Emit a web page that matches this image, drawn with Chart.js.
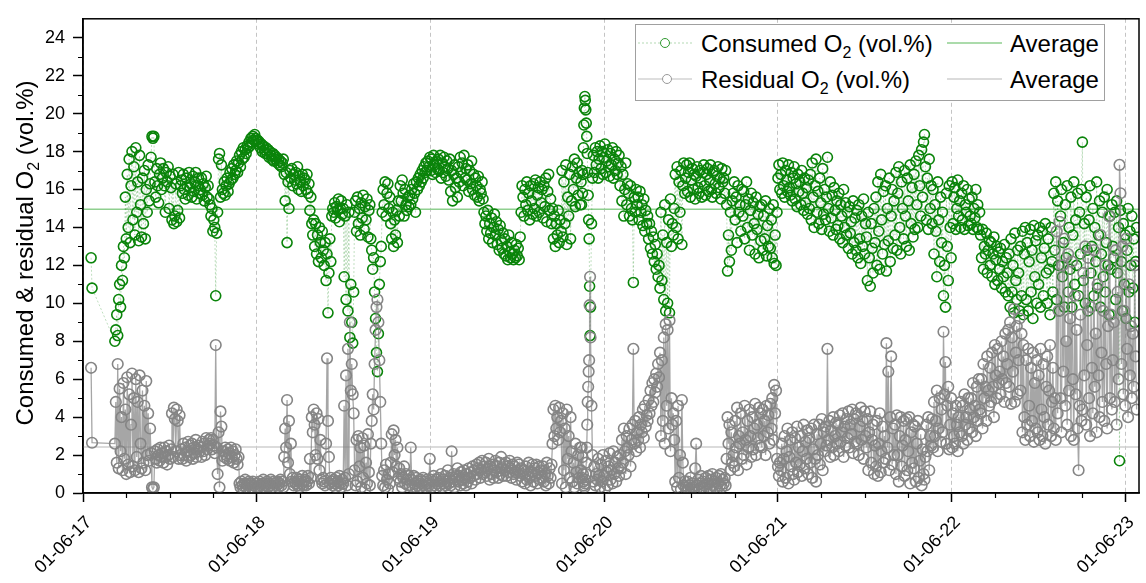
<!DOCTYPE html>
<html>
<head>
<meta charset="utf-8">
<title>Consumed and residual O2</title>
<script src="https://cdn.jsdelivr.net/npm/chart.js@4.4.1/dist/chart.umd.min.js"></script>
<style>
  body { margin: 0; background: #fff; }
  #wrap { position: relative; width: 1146px; height: 583px; }
  #overlay { position: absolute; left: 0; top: 0; pointer-events: none; }
  #overlay text { font-family: 'Liberation Sans', Arial, sans-serif; font-size: 24px; fill: #000; }
</style>
</head>
<body>
<div id="wrap">
  <canvas id="o2Chart" width="1146" height="583"></canvas>
  <svg id="overlay" width="1146" height="583">
    <text transform="translate(33,253) rotate(-90)" text-anchor="middle">Consumed &amp; residual O<tspan font-size="16" dy="6">2</tspan><tspan dy="-6"> (vol.%)</tspan></text>
    <rect x="635.5" y="24.5" width="469" height="76" fill="#fff" stroke="#a0a0a0"/>
    <line x1="638" y1="43" x2="692" y2="43" stroke="rgba(0,128,0,0.3)" stroke-dasharray="2,2"/>
    <circle cx="665" cy="43" r="4.5" fill="#fff" stroke="#2f9a2f"/>
    <text x="701" y="52">Consumed O<tspan font-size="16" dy="6">2</tspan><tspan dy="-6"> (vol.%)</tspan></text>
    <line x1="947" y1="43" x2="1002" y2="43" stroke="#8fcf8f" stroke-width="1.5"/>
    <text x="1010" y="52">Average</text>
    <line x1="638" y1="79" x2="692" y2="79" stroke="#bdbdbd" stroke-width="1.2"/>
    <circle cx="667" cy="79" r="4.5" fill="#fff" stroke="#9a9a9a"/>
    <text x="701" y="88">Residual O<tspan font-size="16" dy="6">2</tspan><tspan dy="-6"> (vol.%)</tspan></text>
    <line x1="947" y1="79" x2="1002" y2="79" stroke="#cfcfcf" stroke-width="1.5"/>
    <text x="1010" y="88">Average</text>
  </svg>
</div>
<script>
// days since 01-06-17
const days = [
  17, 19,
  67, 69, 71, 73, 75, 77, 79, 81, 83, 85,
  87, 89, 91, 93, 95, 97, 99, 101, 103, 105,
  107, 109, 111, 113, 115, 117, 119, 121, 123, 125,
  127, 129, 131, 133, 135, 137, 139, 141, 143, 145,
  147, 149, 151, 153, 155, 157, 159, 161, 163, 165,
  167, 169, 171, 173, 175, 177, 179, 181, 183, 185,
  187, 189, 191, 193, 195, 197, 199, 201, 203, 205,
  207, 209, 211, 213, 215, 217, 219, 221, 223, 225,
  227, 229, 231, 233, 235, 237, 239, 241, 243, 245,
  247, 249, 251, 253, 255, 257, 259, 261, 263, 265,
  267, 269, 271, 273, 275, 277, 279, 281, 283, 285,
  287, 289, 291, 293, 295, 297, 299, 301, 303, 305,
  307, 309, 311, 313, 315, 317, 319, 321, 323, 325,
  327, 329, 331, 333, 335, 337, 339, 341, 343, 345,
  347, 349, 351, 353, 355, 357, 359, 361, 363, 365,
  367, 369, 371, 373, 375, 377, 379, 381, 383, 385,
  387, 389, 391, 393, 395, 397, 399, 401, 403, 405,
  407, 409, 411, 413, 415, 417, 419, 421, 423, 425,
  427, 429, 431, 433, 435, 437, 439, 441, 443, 445,
  447, 449, 451, 453, 455, 457, 459, 461, 463, 465,
  467, 469, 471, 473, 475, 477, 479, 481, 483, 485,
  487, 489, 491, 493, 495, 497, 499, 501, 503, 505,
  507, 509, 511, 513, 515, 517, 519, 521, 523, 525,
  527, 529, 531, 533, 535, 537, 539, 541, 543, 545,
  547, 549, 551, 553, 555, 557, 559, 561, 563, 565,
  567, 569, 571, 573, 575, 577, 579, 581, 583, 585,
  587, 589, 591, 593, 595, 597, 599, 601, 603, 605,
  607, 609, 611, 613, 615, 617, 619, 621, 623, 625,
  627, 629, 631, 633, 635, 637, 639, 641, 643, 645,
  647, 649, 651, 653, 655, 657, 659, 661, 663, 665,
  667, 669, 671, 673, 675, 677, 679, 681, 683, 685,
  687, 689, 691, 693, 695, 697, 699, 701, 703, 705,
  707, 709, 711, 713, 715, 717, 719, 721, 723, 725,
  727, 729, 731, 733, 735, 737, 739, 741, 743, 745,
  747, 749, 751, 753, 755, 757, 759, 761, 763, 765,
  767, 769, 771, 773, 775, 777, 779, 781, 783, 785,
  787, 789, 791, 793, 795, 797, 799, 801, 803, 805,
  807, 809, 811, 813, 815, 817, 819, 821, 823, 825,
  827, 829, 831, 833, 835, 837, 839, 841, 843, 845,
  847, 849, 851, 853, 855, 857, 859, 861, 863, 865,
  867, 869, 871, 873, 875, 877, 879, 881, 883, 885,
  887, 889, 891, 893, 895, 897, 899, 901, 903, 905,
  907, 909, 911, 913, 915, 917, 919, 921, 923, 925,
  927, 929, 931, 933, 935, 937, 939, 941, 943, 945,
  947, 949, 951, 953, 955, 957, 959, 961, 963, 965,
  967, 969, 971, 973, 975, 977, 979, 981, 983, 985,
  987, 989, 991, 993, 995, 997, 999, 1001, 1003, 1005,
  1007, 1009, 1011, 1013, 1015, 1017, 1019, 1021, 1023, 1025,
  1027, 1029, 1031, 1033, 1035, 1037, 1039, 1041, 1043, 1045,
  1047, 1048, 1049, 1050, 1051, 1052, 1053, 1054, 1055, 1056, 1057, 1058, 1059, 1060, 1061, 1062, 1063, 1064, 1065, 1066,
  1067, 1069, 1071, 1073, 1075, 1077, 1079, 1081, 1083, 1085,
  1087, 1089, 1091, 1093, 1095, 1097, 1099, 1101, 1103, 1105,
  1107, 1109, 1111, 1113, 1115, 1117, 1119, 1121, 1123, 1125,
  1127, 1129, 1131, 1133, 1135, 1137, 1139, 1141, 1143, 1145,
  1147, 1149, 1151, 1153, 1155, 1157, 1159, 1161, 1163, 1165,
  1167, 1169, 1171, 1173, 1175, 1177, 1179, 1181, 1183, 1185,
  1187, 1189, 1191, 1193, 1195, 1197, 1199, 1201, 1203, 1205,
  1207, 1209, 1211, 1213, 1215, 1217, 1219, 1221, 1223, 1225,
  1227, 1229, 1231, 1233, 1235, 1237, 1239, 1241, 1243, 1245,
  1247, 1249, 1251, 1253, 1255, 1257, 1259, 1261, 1263, 1265,
  1267, 1269, 1271, 1273, 1275, 1277, 1279, 1281, 1283, 1285,
  1287, 1289, 1291, 1293, 1295, 1297, 1299, 1301, 1303, 1305,
  1307, 1309, 1311, 1313, 1315, 1317, 1319, 1321, 1323, 1325,
  1327, 1329, 1331, 1333, 1335, 1337, 1339, 1341, 1343, 1345,
  1347, 1349, 1351, 1353, 1355, 1357, 1359, 1361, 1363, 1365,
  1367, 1369, 1371, 1373, 1375, 1377, 1379, 1381, 1383, 1385,
  1387, 1389, 1391, 1393, 1395, 1397, 1399, 1401, 1403, 1405,
  1407, 1409, 1411, 1413, 1415, 1417, 1419, 1421, 1423, 1425,
  1427, 1429, 1431, 1433, 1435, 1437, 1439, 1441, 1443, 1445,
  1447, 1449, 1451, 1453, 1455, 1457, 1459, 1461, 1463, 1465,
  1467, 1469, 1471, 1473, 1475, 1477, 1479, 1481, 1483, 1485,
  1487, 1489, 1491, 1493, 1495, 1497, 1499, 1501, 1503, 1505,
  1507, 1509, 1511, 1513, 1515, 1517, 1519, 1521, 1523, 1525,
  1527, 1529, 1531, 1533, 1535, 1537, 1539, 1541, 1543, 1545,
  1547, 1549, 1551, 1553, 1555, 1557, 1559, 1561, 1563, 1565,
  1567, 1569, 1571, 1573, 1575, 1577, 1579, 1581, 1583, 1585,
  1587, 1589, 1591, 1593, 1595, 1597, 1599, 1601, 1603, 1605,
  1607, 1609, 1611, 1613, 1615, 1617, 1619, 1621, 1623, 1625,
  1627, 1629, 1631, 1633, 1635, 1637, 1639, 1641, 1643, 1645,
  1647, 1649, 1651, 1653, 1655, 1657, 1659, 1661, 1663, 1665,
  1667, 1669, 1671, 1673, 1675, 1677, 1679, 1681, 1683, 1685,
  1687, 1689, 1691, 1693, 1695, 1697, 1699, 1701, 1703, 1705,
  1707, 1709, 1711, 1713, 1715, 1717, 1719, 1721, 1723, 1725,
  1727, 1729, 1731, 1733, 1735, 1737, 1739, 1741, 1743, 1745,
  1747, 1749, 1751, 1753, 1755, 1757, 1759, 1761, 1763, 1765,
  1767, 1769, 1771, 1773, 1775, 1777, 1779, 1781, 1783, 1785,
  1787, 1789, 1791, 1793, 1795, 1797, 1799, 1801, 1803, 1805,
  1807, 1809, 1811, 1813, 1815, 1817, 1819, 1821, 1823, 1825,
  1827, 1829, 1831, 1833, 1835, 1837, 1839, 1841, 1843, 1845,
  1847, 1849, 1851, 1853, 1855, 1857, 1859, 1861, 1863, 1865,
  1867, 1869, 1871, 1873, 1875, 1877, 1879, 1881, 1883, 1885,
  1887, 1889, 1891, 1893, 1895, 1897, 1899, 1901, 1903, 1905,
  1907, 1909, 1911, 1913, 1915, 1917, 1919, 1921, 1923, 1925,
  1927, 1929, 1931, 1933, 1935, 1937, 1939, 1941, 1943, 1945,
  1947, 1949, 1951, 1953, 1955, 1957, 1959, 1961, 1963, 1965,
  1967, 1969, 1971, 1973, 1975, 1977, 1979, 1981, 1983, 1985,
  1987, 1989, 1991, 1993, 1995, 1997, 1999, 2001, 2003, 2005,
  2007, 2009, 2011, 2013, 2015, 2017, 2019, 2021, 2023, 2025,
  2027, 2029, 2031, 2033, 2035, 2037, 2039, 2041, 2043, 2045,
  2047, 2049, 2051, 2053, 2055, 2057, 2059, 2061, 2063, 2065,
  2067, 2069, 2071, 2073, 2075, 2077, 2079, 2081, 2083, 2085,
  2087, 2089, 2091, 2093, 2095, 2097, 2099, 2101, 2103, 2105,
  2107, 2109, 2111, 2113, 2115, 2117, 2119, 2121, 2123, 2125,
  2127, 2129, 2131, 2133, 2135, 2137, 2139, 2141, 2143, 2145,
  2147, 2149, 2151, 2153, 2155, 2157, 2159, 2161, 2163, 2165,
  2167, 2169, 2171, 2173, 2175, 2177, 2179, 2181, 2183, 2185,
  2187, 2189, 2191, 2193, 2195, 2197, 2199, 2201, 2203, 2205,
  2207, 2209, 2211, 2213, 2215
];

const consumed = [
  12.4, 10.8,
  8.0, 8.6, 9.4, 8.3, 10.2, 11.0, 9.8, 12.0, 11.2, 13.0,
  12.4, 15.6, 13.4, 16.8, 14.0, 17.6, 13.2, 16.2, 18.0, 14.4,
  17.2, 13.6, 18.2, 14.8, 16.4, 13.3, 17.8, 15.2, 13.5, 16.6,
  14.2, 17.0, 13.4, 16.0, 14.8, 17.3, 15.4, 16.3, 17.7, 18.8,
  18.7, 18.8, 16.4, 15.6, 17.1, 16.2, 15.3, 16.8, 17.4, 16.0,
  16.6, 17.1, 16.2, 14.8, 16.9, 16.4, 17.2, 15.0, 16.7, 16.1,
  14.4, 16.8, 14.2, 14.6, 16.3, 14.3, 14.9, 16.9, 14.5, 16.2,
  16.5, 15.8, 16.8, 16.0, 15.5, 16.6, 16.2, 15.7, 16.9, 16.1,
  16.3, 15.6, 16.7, 15.9, 16.4, 16.9, 15.5, 16.2, 16.6, 15.8,
  16.0, 16.6, 15.7, 16.3, 15.4, 16.1, 16.7, 15.6, 16.2, 15.5,
  15.2, 14.6, 15.0, 13.8, 14.4, 14.0, 10.4, 13.7, 14.8, 17.6,
  17.9, 15.6, 17.3, 16.0, 15.8, 16.4, 15.7, 16.2, 16.6, 15.9,
  16.3, 16.9, 16.5, 17.1, 16.6, 17.3, 16.8, 17.0, 17.5, 16.9,
  17.4, 17.8, 17.2, 18.0, 17.6, 18.2, 17.7, 18.1, 17.9, 18.3,
  18.2, 18.5, 18.3, 18.7, 18.5, 18.8, 18.6, 18.9, 18.7, 18.6,
  18.6, 18.4, 18.5, 18.2, 18.4, 18.0, 18.3, 18.1, 17.9, 18.2,
  17.9, 18.1, 17.7, 18.0, 17.8, 17.6, 17.9, 17.5, 17.8, 17.6,
  17.7, 17.4, 17.6, 17.3, 17.5, 17.2, 17.4, 17.6, 16.8, 15.4,
  16.9, 13.2, 16.4, 15.0, 17.0, 16.6, 17.1, 16.2, 16.8, 16.5,
  16.9, 16.3, 17.2, 16.0, 16.7, 16.4, 15.9, 16.8, 16.2, 16.6,
  16.5, 16.0, 16.8, 15.8, 16.3, 14.9, 15.6, 14.2, 13.6, 14.4,
  13.0, 14.2, 12.6, 13.6, 12.2, 14.0, 13.2, 12.4, 13.8, 12.8,
  12.0, 13.2, 11.2, 12.6, 9.5, 11.6, 13.4, 12.2, 14.6, 15.0,
  14.8, 15.3, 14.5, 15.1, 14.9, 15.5, 14.3, 15.0, 15.4, 14.7,
  15.0, 11.4, 14.6, 10.2, 15.2, 9.6, 14.8, 8.2, 11.0, 9.0,
  7.9, 10.6, 14.8, 15.4, 13.8, 15.6, 14.2, 15.0, 13.6, 15.3,
  14.5, 15.7, 13.9, 15.1, 14.4, 15.5, 13.5, 14.9, 15.2, 13.4,
  12.8, 11.8, 12.4, 10.6, 9.2, 7.4, 6.4, 8.4, 11.0, 12.2,
  13.0, 14.8, 16.0, 15.2, 16.4, 14.6, 15.8, 16.3, 15.0, 15.6,
  14.2, 13.4, 14.8, 13.0, 14.4, 13.6, 14.9, 13.2, 15.4, 14.6,
  16.2, 15.4, 16.5, 15.8, 14.6, 16.0, 15.2, 14.9, 15.6, 15.1,
  15.7, 15.2, 16.0, 15.5, 16.3, 15.8, 14.8, 16.4, 16.0, 16.6,
  16.2, 16.8, 16.4, 17.0, 16.6, 17.2, 16.9, 17.4, 17.0, 17.5,
  17.2, 17.7, 17.0, 17.6, 16.8, 17.8, 17.3, 16.9, 17.5, 17.1,
  17.6, 17.0, 17.8, 16.6, 17.4, 16.9, 17.7, 17.2, 16.7, 17.5,
  17.1, 16.5, 17.6, 15.9, 17.0, 15.4, 16.8, 17.3, 16.1, 16.6,
  15.6, 17.2, 16.4, 17.7, 16.9, 17.4, 16.2, 17.8, 16.6, 17.1,
  16.5, 17.3, 15.9, 17.0, 16.3, 17.5, 16.0, 16.8, 15.7, 16.6,
  16.2, 15.6, 16.7, 15.4, 16.0, 15.8, 16.4, 15.5, 14.8, 14.2,
  14.6, 13.8, 14.9, 13.4, 14.2, 13.7, 14.5, 13.2, 14.0, 14.7,
  13.6, 14.3, 13.1, 13.9, 12.8, 14.1, 13.3, 12.9, 13.7, 12.6,
  13.4, 12.5, 13.0, 12.3, 13.6, 12.7, 12.4, 13.2, 12.6, 12.3,
  12.8, 12.4, 13.1, 12.5, 12.9, 12.3, 13.5, 14.8, 16.2, 15.6,
  14.6, 16.0, 15.2, 16.4, 14.9, 15.8, 14.4, 16.2, 15.4, 14.7,
  16.3, 15.0, 16.5, 14.6, 15.7, 16.1, 14.8, 16.4, 15.3, 16.0,
  14.5, 16.2, 15.1, 16.6, 14.3, 15.9, 16.8, 14.9, 15.5, 14.2,
  15.0, 13.4, 14.6, 13.0, 14.2, 13.6, 14.9, 13.2, 14.4, 13.8,
  17.0, 13.5, 16.4, 14.2, 17.3, 13.1, 15.6, 14.6, 16.8, 13.4,
  15.4, 17.2, 16.0, 17.6, 15.1, 16.6, 17.4, 15.7, 16.9, 15.2,
  16.4, 15.2, 17.0, 15.8, 16.8, 18.2, 19.4, 20.3, 20.9, 20.7, 20.2, 19.5, 18.8, 17.9, 16.9, 15.7, 14.4, 13.4, 10.9, 8.3,
  9.8, 14.2, 16.6, 17.8, 16.9, 18.2, 17.3, 18.0, 16.6, 17.6,
  18.3, 17.1, 18.0, 16.8, 17.7, 18.4, 16.9, 17.5, 18.1, 17.2,
  16.7, 17.9, 17.3, 18.2, 16.6, 17.6, 17.0, 18.0, 16.8, 17.4,
  17.8, 16.2, 17.2, 15.4, 16.8, 14.6, 16.0, 17.4, 15.2, 16.3,
  15.8, 14.6, 16.2, 15.0, 14.4, 11.1, 15.6, 14.8, 16.0, 15.2,
  15.6, 14.4, 15.9, 14.8, 15.2, 14.1, 15.5, 13.8, 14.9, 14.2,
  14.6, 13.4, 14.2, 12.9, 13.8, 12.6, 13.5, 12.2, 13.1, 11.8,
  12.6, 11.4, 12.0, 10.8, 14.8, 11.2, 13.6, 10.2, 15.2, 9.6,
  13.2, 10.0, 14.4, 9.5, 15.5, 13.0, 14.2, 13.6, 15.0, 16.8,
  14.0, 17.2, 13.4, 16.4, 14.8, 17.0, 13.1, 16.2, 17.4, 15.8,
  16.6, 17.3, 15.9, 16.9, 17.4, 15.6, 16.5, 17.1, 16.0, 16.8,
  15.5, 16.7, 17.2, 16.1, 15.8, 17.0, 16.4, 15.6, 16.9, 17.3,
  16.2, 15.7, 16.8, 17.1, 15.9, 16.5, 17.3, 16.0, 15.6, 16.9,
  17.0, 16.3, 15.8, 16.7, 17.2, 16.1, 16.6, 15.5, 17.1, 16.4,
  16.6, 15.8, 17.0, 15.2, 11.7, 13.6, 12.2, 14.8, 12.8, 15.4,
  15.8, 16.4, 14.4, 15.6, 13.2, 16.2, 14.8, 15.2, 13.8, 16.0,
  14.6, 15.9, 13.4, 15.2, 16.4, 14.0, 15.5, 12.8, 14.9, 15.8,
  13.6, 15.3, 14.2, 12.6, 15.6, 13.9, 14.7, 12.4, 15.1, 13.3,
  15.2, 12.8, 14.6, 13.4, 15.4, 12.5, 14.1, 13.0, 15.0, 12.9,
  14.4, 12.4, 15.2, 12.1, 13.6, 12.0, 14.8, 16.6, 17.3, 16.0,
  16.8, 15.8, 17.4, 16.2, 15.6, 17.0, 16.5, 15.9, 17.3, 16.1,
  15.7, 16.9, 15.4, 16.6, 17.2, 15.5, 16.3, 15.1, 16.8, 15.9,
  16.4, 15.2, 17.0, 15.8, 14.9, 16.6, 15.3, 16.1, 14.7, 16.5,
  15.0, 16.8, 14.4, 17.4, 15.6, 14.0, 16.2, 17.6, 14.8, 15.9,
  14.2, 16.6, 15.3, 13.9, 17.1, 14.7, 16.0, 14.4, 15.6, 17.7,
  15.0, 13.8, 16.4, 14.5, 15.7, 13.6, 16.1, 14.9, 13.9, 15.4,
  14.1, 15.8, 13.4, 15.2, 14.6, 13.2, 16.0, 14.0, 15.3, 13.6,
  14.8, 12.9, 15.1, 13.7, 14.3, 12.6, 15.4, 13.2, 14.5, 12.8,
  14.9, 12.4, 15.2, 13.4, 12.1, 14.6, 13.0, 15.5, 12.6, 14.2,
  13.5, 11.2, 14.8, 12.4, 10.9, 14.2, 12.9, 11.6, 15.0, 13.2,
  15.6, 12.0, 16.4, 13.8, 11.8, 16.8, 14.4, 12.6, 15.9, 13.1,
  16.2, 11.7, 15.0, 13.3, 16.6, 12.2, 14.6, 16.0, 12.9, 15.4,
  13.6, 16.9, 12.8, 15.8, 17.2, 14.0, 12.6, 16.4, 15.0, 13.4,
  17.0, 14.6, 13.0, 16.6, 15.4, 12.8, 17.3, 14.2, 16.1, 13.5,
  16.8, 13.9, 17.5, 15.2, 14.0, 17.8, 16.2, 14.6, 18.1, 15.6,
  18.5, 18.9, 17.2, 14.4, 16.6, 13.9, 17.6, 15.0, 16.2, 14.2,
  16.0, 12.6, 15.2, 13.8, 11.4, 16.4, 14.4, 12.2, 15.6, 13.2,
  14.8, 10.4, 12.0, 9.8, 15.8, 13.0, 11.2, 16.2, 14.0, 12.4,
  16.4, 14.2, 15.6, 16.1, 13.9, 15.0, 16.5, 14.6, 15.4, 14.0,
  15.8, 14.4, 16.2, 13.9, 15.2, 14.8, 16.0, 14.1, 15.5, 14.6,
  14.2, 15.6, 13.9, 15.0, 14.5, 16.0, 14.0, 15.2, 13.9, 14.8,
  13.6, 12.4, 13.9, 11.8, 13.0, 12.6, 13.7, 11.6, 12.8, 13.3,
  12.0, 13.2, 11.4, 12.6, 13.5, 11.0, 12.3, 13.0, 11.2, 12.7,
  11.8, 12.9, 10.8, 12.2, 11.4, 13.1, 10.6, 12.4, 11.6, 10.4,
  12.6, 9.8, 13.4, 10.6, 12.0, 9.5, 13.7, 11.2, 10.2, 12.8,
  11.6, 9.6, 13.0, 10.4, 13.8, 9.4, 12.6, 14.0, 10.2, 13.2,
  9.6, 12.2, 13.9, 10.6, 12.8, 9.2, 14.1, 11.4, 13.3, 10.0,
  13.6, 11.0, 14.0, 9.8, 12.4, 13.8, 10.4, 12.9, 14.2, 11.6,
  10.0, 13.4, 11.8, 9.4, 14.0, 12.2, 10.6, 15.8, 12.8, 16.4,
  10.2, 15.4, 12.0, 9.6, 14.6, 16.0, 11.4, 13.2, 9.8, 15.2,
  12.4, 16.2, 10.6, 14.0, 11.8, 15.6, 9.8, 13.6, 16.4, 11.0,
  14.4, 12.0, 15.8, 10.4, 14.8, 12.6, 16.0, 18.5, 11.2, 14.2,
  10.0, 15.6, 12.8, 9.6, 14.4, 16.2, 11.6, 13.0, 15.0, 10.4,
  14.0, 12.2, 16.4, 10.8, 13.6, 15.4, 9.8, 12.6, 14.8, 11.4,
  15.6, 10.6, 13.2, 16.0, 12.0, 9.4, 14.6, 11.8, 15.2, 13.0,
  12.4, 14.8, 10.2, 15.4, 11.6, 14.0, 1.7, 14.9, 12.2, 9.6,
  14.2, 11.0, 13.6, 9.2, 12.8, 15.0, 10.6, 13.8, 12.0, 14.6,
  10.8, 13.4, 9.0, 12.2, 14.0
];

const residual = [
  6.6, 2.65,
  2.6, 4.8, 1.6, 6.8, 1.3, 5.5, 2.2, 4.0, 1.2, 5.8,
  1.8, 4.4, 1.0, 6.1, 1.5, 5.2, 1.1, 3.6, 6.3, 1.4,
  5.0, 1.2, 6.0, 1.9, 4.8, 1.1, 6.2, 2.6, 1.3, 5.4,
  1.6, 4.6, 1.2, 5.9, 2.0, 4.2, 1.7, 3.4, 2.1, 0.3,
  0.2, 0.3, 2.2, 1.8, 1.6, 2.3, 2.0, 1.7, 2.4, 1.9,
  2.1, 1.6, 2.4, 1.9, 2.2, 1.5, 2.0, 2.5, 1.8, 2.3,
  4.2, 1.9, 4.5, 3.9, 2.2, 4.4, 3.8, 1.8, 4.1, 2.0,
  2.3, 1.8, 2.6, 2.0, 2.4, 1.7, 2.2, 2.7, 1.9, 2.5,
  2.0, 2.6, 1.8, 2.4, 2.1, 2.8, 1.9, 2.3, 2.5, 2.2,
  2.4, 1.9, 2.7, 2.2, 2.6, 2.0, 2.9, 2.3, 2.5, 2.8,
  2.6, 2.9, 2.3, 2.8, 2.5, 2.1, 7.8, 2.4, 1.0, 3.2,
  0.3, 4.3, 3.5, 1.7, 2.2, 1.9, 2.4, 2.0, 1.8, 2.3,
  2.1, 1.7, 2.4, 1.9, 2.2, 1.6, 2.0, 2.3, 1.8, 1.5,
  1.9, 0.5, 0.3, 0.6, 0.4, 0.2, 0.5, 0.7, 0.3, 0.5,
  0.4, 0.6, 0.2, 0.5, 0.3, 0.6, 0.4, 0.2, 0.5, 0.3,
  0.5, 0.3, 0.6, 0.4, 0.2, 0.5, 0.7, 0.3, 0.5, 0.4,
  0.6, 0.3, 0.5, 0.4, 0.7, 0.3, 0.5, 0.6, 0.2, 0.5,
  0.4, 0.6, 0.3, 0.5, 0.7, 0.4, 0.6, 0.3, 1.9, 3.4,
  2.4, 4.9, 1.6, 3.8, 1.0, 2.6, 0.6, 0.8, 0.4, 0.6,
  0.5, 0.8, 0.4, 0.6, 0.3, 0.7, 0.5, 0.9, 0.4, 0.6,
  0.7, 0.4, 0.6, 0.9, 0.5, 1.8, 0.8, 4.0, 3.2, 4.4,
  3.6, 2.0, 4.2, 1.8, 3.9, 1.2, 2.8, 0.7, 0.5, 0.8,
  0.6, 0.4, 2.6, 7.1, 3.8, 1.9, 0.5, 0.8, 0.6, 0.4,
  0.7, 0.5, 0.3, 0.8, 0.6, 0.4, 0.9, 0.5, 0.3, 0.7,
  0.5, 4.6, 0.8, 6.2, 0.4, 7.6, 1.0, 9.0, 5.4, 6.8,
  5.2, 4.2, 1.2, 0.4, 2.8, 0.6, 3.0, 1.4, 2.4, 0.3,
  2.9, 0.8, 2.5, 0.2, 1.6, 0.5, 3.1, 1.1, 0.4, 2.6,
  3.8, 5.2, 4.4, 6.8, 8.6, 9.8, 10.2, 9.0, 7.0, 4.8,
  2.6, 0.9, 0.4, 1.2, 0.3, 1.5, 0.7, 0.2, 1.0, 0.5,
  1.6, 3.1, 1.1, 3.3, 2.0, 2.8, 1.4, 2.4, 0.8, 1.3,
  0.6, 1.0, 0.3, 0.8, 1.4, 0.5, 1.0, 0.7, 0.4, 0.9,
  0.4, 2.4, 0.7, 0.3, 0.9, 0.5, 0.3, 0.8, 0.4, 0.6,
  0.3, 0.7, 0.5, 0.2, 0.8, 0.4, 0.6, 0.3, 0.7, 0.5,
  0.4, 1.8, 0.7, 0.3, 0.6, 0.9, 0.4, 0.2, 0.7, 0.5,
  0.8, 0.4, 0.6, 1.0, 0.3, 0.7, 0.5, 0.9, 0.4, 0.6,
  1.2, 0.5, 0.8, 0.4, 2.2, 0.6, 1.0, 0.3, 0.7, 0.9,
  1.3, 0.6, 0.9, 0.4, 1.1, 0.7, 0.5, 1.2, 0.8, 0.4,
  1.0, 0.6, 1.3, 0.8, 1.1, 0.5, 1.4, 0.9, 1.2, 0.7,
  1.5, 1.0, 1.3, 1.6, 0.8, 1.2, 1.7, 1.0, 1.4, 1.1,
  1.6, 0.9, 1.3, 1.8, 0.7, 1.4, 1.0, 1.5, 0.8, 1.2,
  1.7, 1.1, 1.4, 0.8, 1.6, 1.0, 1.9, 1.3, 0.9, 1.5,
  1.2, 1.6, 0.9, 1.4, 1.1, 1.7, 1.3, 0.8, 1.5, 1.0,
  1.4, 1.1, 0.7, 1.6, 1.2, 1.5, 0.9, 1.3, 0.6, 1.0,
  1.2, 0.5, 1.4, 0.7, 1.0, 1.6, 0.8, 0.4, 1.1, 1.5,
  0.6, 1.3, 0.9, 1.5, 0.5, 1.1, 1.4, 0.7, 1.2, 0.8,
  1.4, 0.6, 1.0, 0.4, 1.6, 0.9, 0.5, 1.3, 0.8, 1.5,
  2.6, 4.4, 3.0, 4.6, 3.4, 4.0, 2.8, 4.5, 3.2, 3.8,
  0.5, 4.2, 1.2, 3.4, 0.3, 4.4, 1.8, 3.0, 0.8, 4.0,
  2.2, 0.6, 1.6, 0.3, 2.6, 1.1, 0.5, 2.0, 0.8, 2.4,
  1.2, 2.4, 0.8, 1.9, 1.0, 0.6, 0.4, 0.3, 0.5, 0.7, 1.0, 1.6, 2.4, 3.6, 4.8, 5.6, 6.4, 7.0, 9.9, 11.4,
  8.2, 4.6, 2.0, 0.6, 1.4, 0.4, 1.0, 0.7, 1.8, 0.9,
  0.3, 1.5, 0.6, 2.0, 0.9, 0.2, 1.7, 1.1, 0.4, 1.4,
  2.1, 0.7, 1.2, 0.5, 2.2, 1.0, 1.6, 0.6, 1.9, 1.3,
  0.9, 2.0, 1.3, 2.8, 1.6, 3.4, 2.2, 1.0, 3.0, 2.4,
  2.0, 3.4, 1.4, 2.8, 3.6, 7.6, 2.6, 3.8, 2.2, 3.2,
  2.8, 4.0, 2.4, 3.6, 3.2, 4.4, 2.9, 4.6, 3.5, 4.1,
  3.8, 4.9, 4.2, 5.4, 4.6, 5.8, 4.8, 6.0, 5.3, 6.3,
  5.6, 6.8, 6.1, 7.4, 3.0, 7.0, 3.8, 8.2, 2.6, 8.9,
  4.6, 8.6, 3.4, 9.1, 2.2, 5.0, 3.6, 4.2, 2.8, 0.6,
  3.8, 0.3, 4.6, 0.8, 2.0, 0.2, 4.9, 1.6, 0.4, 0.6,
  0.3, 0.1, 0.6, 0.2, 0.4, 0.8, 0.2, 0.5, 0.3, 0.1,
  1.3, 2.6, 0.4, 0.7, 0.2, 0.5, 0.9, 0.3, 0.6, 0.2,
  0.4, 0.8, 0.1, 0.5, 0.9, 0.3, 0.2, 0.7, 1.0, 0.4,
  0.6, 0.3, 0.8, 0.2, 0.5, 0.9, 0.4, 1.0, 0.3, 0.7,
  0.5, 0.8, 0.4, 1.8, 4.0, 2.6, 3.6, 1.2, 3.2, 1.6,
  2.0, 1.4, 3.8, 2.4, 4.5, 1.2, 3.0, 2.6, 4.2, 1.8,
  3.2, 2.0, 4.6, 2.8, 1.5, 3.8, 2.4, 4.4, 3.0, 1.9,
  4.0, 2.3, 3.4, 4.7, 2.0, 3.6, 2.9, 4.5, 2.5, 4.2,
  2.4, 4.4, 3.0, 3.8, 2.0, 4.6, 3.2, 4.1, 2.6, 4.7,
  3.4, 5.0, 2.8, 5.7, 4.2, 5.4, 1.8, 1.4, 0.9, 1.6,
  1.2, 2.6, 0.6, 1.8, 3.0, 0.8, 2.2, 3.4, 0.5, 1.9,
  2.8, 1.4, 3.2, 1.0, 0.7, 2.9, 1.6, 3.5, 1.1, 2.4,
  1.5, 3.0, 0.9, 2.2, 3.6, 1.3, 2.7, 1.8, 3.3, 1.0,
  2.9, 1.6, 3.4, 0.8, 2.3, 3.6, 1.8, 0.6, 3.1, 2.0,
  3.6, 1.5, 2.6, 3.9, 1.2, 3.2, 2.2, 3.5, 2.5, 7.6,
  2.8, 3.8, 1.9, 3.3, 2.4, 4.0, 2.0, 3.0, 3.7, 2.6,
  3.6, 2.2, 4.1, 2.7, 3.2, 4.2, 1.9, 3.5, 2.5, 3.9,
  2.9, 4.3, 2.4, 3.6, 3.1, 4.4, 2.1, 3.9, 2.7, 4.2,
  2.6, 4.1, 2.0, 3.5, 4.5, 2.8, 3.8, 1.8, 4.3, 3.0,
  2.4, 3.9, 1.2, 3.2, 4.3, 1.6, 2.8, 3.6, 1.0, 2.5,
  1.4, 3.8, 0.9, 2.6, 4.2, 1.1, 2.2, 3.5, 1.6, 3.0,
  1.8, 7.9, 2.4, 6.4, 1.2, 4.0, 7.2, 1.5, 3.4, 2.0,
  3.6, 1.0, 4.1, 2.0, 0.6, 3.0, 4.0, 1.4, 2.5, 3.8,
  0.9, 2.8, 3.9, 1.2, 2.2, 4.0, 0.5, 3.2, 1.6, 3.6,
  1.3, 3.5, 0.6, 2.6, 3.8, 0.8, 1.7, 3.1, 0.4, 2.3,
  1.0, 0.7, 1.9, 3.6, 2.2, 4.0, 1.2, 3.0, 2.5, 3.9,
  2.4, 4.8, 3.0, 3.8, 5.4, 2.2, 3.4, 5.0, 2.7, 4.4,
  3.2, 8.5, 5.2, 6.9, 2.6, 4.6, 5.6, 2.3, 3.6, 5.0,
  2.4, 4.2, 3.0, 2.6, 4.6, 3.6, 2.2, 4.0, 3.2, 4.8,
  3.0, 4.6, 2.6, 5.2, 3.6, 4.0, 2.8, 5.0, 3.4, 4.4,
  5.0, 3.2, 5.8, 4.0, 4.6, 3.0, 5.6, 3.8, 6.0, 4.4,
  4.2, 6.0, 3.4, 6.8, 5.0, 5.6, 3.8, 7.2, 5.4, 4.6,
  6.6, 4.8, 7.4, 5.6, 4.0, 7.8, 6.2, 5.0, 7.6, 5.8,
  6.4, 5.2, 8.0, 6.0, 7.2, 4.8, 8.4, 5.8, 6.8, 8.6,
  5.6, 9.0, 4.7, 8.2, 6.4, 9.7, 4.8, 7.4, 8.8, 5.2,
  7.0, 9.2, 5.4, 8.4, 3.2, 7.8, 4.0, 2.8, 7.0, 3.6,
  7.6, 4.6, 3.0, 6.6, 3.8, 7.4, 2.7, 5.8, 3.4, 7.0,
  3.2, 6.2, 2.8, 7.6, 4.4, 3.0, 6.8, 4.0, 2.6, 5.6,
  7.2, 3.6, 5.4, 7.8, 3.0, 4.8, 6.6, 3.4, 5.0, 2.8,
  13.8, 4.2, 9.6, 14.3, 5.0, 3.2, 12.0, 6.4, 13.4, 4.6,
  8.0, 3.6, 12.6, 5.4, 9.2, 3.0, 12.2, 6.0, 2.8, 10.4,
  5.2, 8.6, 3.4, 1.2, 4.6, 9.4, 3.8, 4.4, 11.6, 6.2,
  13.0, 3.6, 7.8, 12.4, 5.0, 3.0, 9.8, 6.6, 4.2, 12.8,
  5.6, 8.4, 3.2, 11.0, 6.2, 4.0, 13.6, 7.4, 4.8, 9.6,
  3.8, 12.0, 6.8, 3.4, 8.8, 14.6, 5.0, 9.4, 4.4, 7.0,
  9.0, 4.8, 12.8, 3.6, 10.6, 6.0, 17.3, 15.8, 6.8, 13.0,
  5.2, 9.6, 4.6, 13.4, 7.6, 4.0, 11.0, 6.2, 8.8, 5.0,
  8.4, 5.6, 12.0, 7.2, 4.4
];

const avgConsumed = 14.96;
const avgResidual = 2.42;

const yearDays = [0, 365, 730, 1096, 1461, 1826, 2191];
const yearLabels = ['01-06-17', '01-06-18', '01-06-19', '01-06-20', '01-06-21', '01-06-22', '01-06-23'];
const xMax = 2220;
const yMax = 25;

Chart.defaults.font.family = "'Liberation Sans', Arial, sans-serif";
Chart.defaults.color = '#000';

// frame round the plot plus the minor ticks
const frameTicks = {
    id: 'frameTicks',
    afterDraw(chart) {
        const { ctx, chartArea: a, scales: { x, y } } = chart;
        ctx.save();
        ctx.strokeStyle = '#000';
        ctx.lineWidth = 1.5;
        ctx.strokeRect(a.left, a.top, a.right - a.left, a.bottom - a.top);
        ctx.lineWidth = 1.2;
        ctx.beginPath();
        for (let v = 1; v < yMax; v += 2) {
            const py = Math.round(y.getPixelForValue(v)) + 0.5;
            ctx.moveTo(a.left - 5, py);
            ctx.lineTo(a.left, py);
        }
        for (let i = 0; i < yearDays.length - 1; i++) {
            for (let q = 1; q < 4; q++) {
                const px = Math.round(x.getPixelForValue(yearDays[i] + (yearDays[i + 1] - yearDays[i]) * q / 4)) + 0.5;
                ctx.moveTo(px, a.bottom);
                ctx.lineTo(px, a.bottom + 5);
            }
        }
        ctx.stroke();
        ctx.restore();
    }
};

document.addEventListener('DOMContentLoaded', function() {
    if (days.length !== consumed.length || days.length !== residual.length) {
        console.error('length mismatch', days.length, consumed.length, residual.length);
    }
    const consumedPoints = days.map((d, i) => ({ x: d, y: consumed[i] }));
    const residualPoints = days.map((d, i) => ({ x: d, y: residual[i] }));

    const ctx = document.getElementById('o2Chart').getContext('2d');
    new Chart(ctx, {
        type: 'scatter',
        data: {
            datasets: [
                {
                    label: 'Residual O2 (vol.%)',
                    data: residualPoints,
                    showLine: true,
                    borderColor: 'rgba(128,128,128,0.7)',
                    borderWidth: 1.3,
                    pointRadius: 5.3,
                    pointBorderWidth: 1.6,
                    pointBorderColor: '#858585',
                    pointBackgroundColor: 'rgba(255,255,255,0)',
                    order: 0
                },
                {
                    label: 'Consumed O2 (vol.%)',
                    data: consumedPoints,
                    showLine: true,
                    borderColor: 'rgba(0,128,0,0.25)',
                    borderDash: [2, 2],
                    borderWidth: 1,
                    pointRadius: 5,
                    pointBorderWidth: 1.6,
                    pointBorderColor: '#0a840a',
                    pointBackgroundColor: 'rgba(255,255,255,0)',
                    order: 1
                },
                {
                    label: 'Average',
                    data: [{ x: 0, y: avgConsumed }, { x: xMax, y: avgConsumed }],
                    showLine: true,
                    borderColor: '#8fcf8f',
                    borderWidth: 1.5,
                    pointRadius: 0,
                    order: 2
                },
                {
                    label: 'Average',
                    data: [{ x: 0, y: avgResidual }, { x: xMax, y: avgResidual }],
                    showLine: true,
                    borderColor: '#cfcfcf',
                    borderWidth: 1.5,
                    pointRadius: 0,
                    order: 3
                }
            ]
        },
        options: {
            responsive: false,
            animation: false,
            devicePixelRatio: 1,
            events: [],
            layout: { padding: { top: 13, right: 7, left: 0, bottom: 0 } },
            plugins: {
                legend: { display: false },
                tooltip: { enabled: false }
            },
            scales: {
                x: {
                    type: 'linear',
                    min: 0,
                    max: xMax,
                    afterBuildTicks: scale => { scale.ticks = yearDays.map(v => ({ value: v })); },
                    afterFit: scale => {
                        scale.height = 90;
                        // keep the rotated last label from shrinking the plot
                        scale.paddingLeft = 0;
                        scale.paddingRight = 0;
                    },
                    ticks: {
                        autoSkip: false,
                        minRotation: 45,
                        maxRotation: 45,
                        padding: 10,
                        labelOffset: 6,
                        color: '#000',
                        font: { size: 18 },
                        callback: v => yearLabels[yearDays.indexOf(v)]
                    },
                    grid: { color: '#c4c4c4', lineWidth: 1, tickColor: '#000', tickLength: 9, tickWidth: 1.5 },
                    border: { color: '#000', width: 1.5, dash: [4, 3] }
                },
                y: {
                    min: 0,
                    max: yMax,
                    afterFit: scale => { scale.width = 83; },
                    ticks: { stepSize: 2, includeBounds: false, padding: 8, color: '#000', font: { size: 18 } },
                    grid: { drawOnChartArea: false, tickColor: '#000', tickLength: 10, tickWidth: 1.5 },
                    border: { color: '#000', width: 1.5 }
                }
            }
        },
        plugins: [frameTicks]
    });
});
</script>
</body>
</html>
